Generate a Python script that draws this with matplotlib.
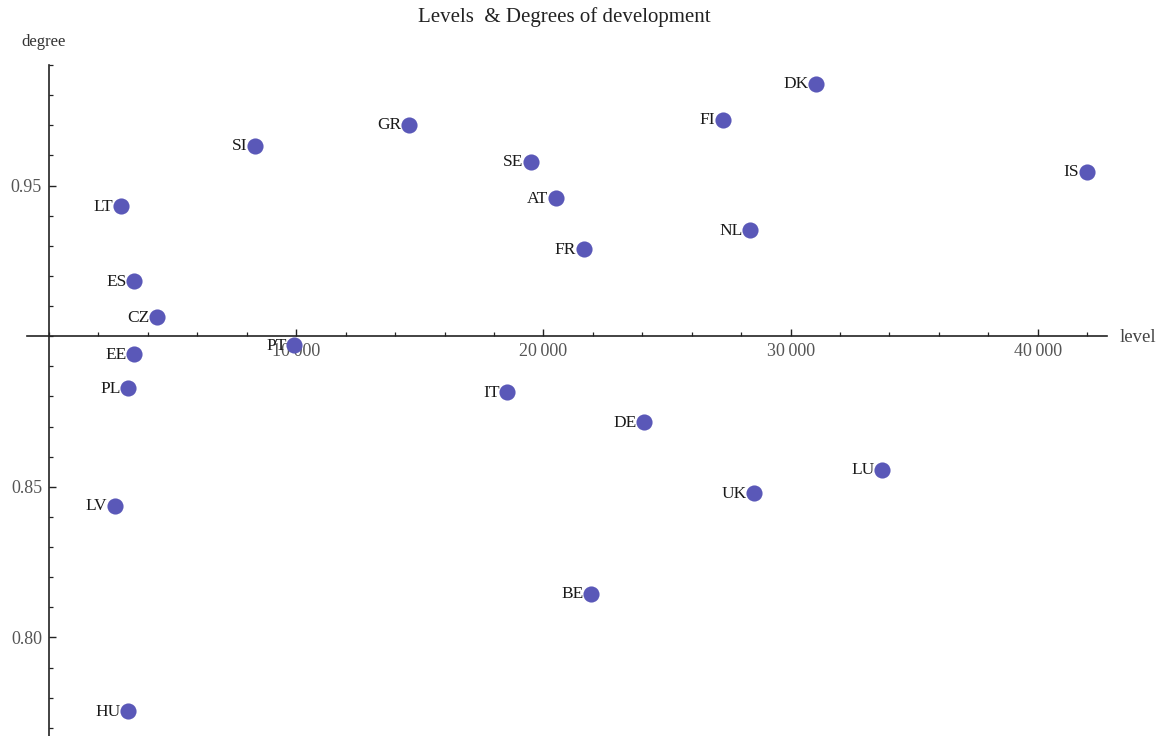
import matplotlib
matplotlib.use('Agg')
import matplotlib.pyplot as plt
from matplotlib.ticker import FixedLocator, MultipleLocator

plt.rcParams['font.family'] = ['Liberation Serif', 'DejaVu Serif']

# country codes, GDP-ish level and development degree
countries = ['DK', 'FI', 'IS', 'GR', 'SI', 'SE', 'AT', 'LT', 'NL', 'FR', 'ES',
             'CZ', 'PT', 'EE', 'PL', 'IT', 'DE', 'LU', 'UK', 'LV', 'BE', 'HU']
levels = [31030, 27270, 41990, 14560, 8330, 19500, 20510, 2910, 28360, 21640, 3440,
          4370, 9910, 3440, 3200, 18530, 24070, 33700, 28520, 2670, 21930, 3200]
degrees = [0.9838, 0.9719, 0.9546, 0.9702, 0.9632, 0.9579, 0.9459, 0.9432, 0.9353, 0.9289, 0.9183,
           0.9063, 0.8970, 0.8940, 0.8827, 0.8814, 0.8714, 0.8557, 0.8478, 0.8438, 0.8145, 0.7756]

x_major = [10000, 20000, 30000, 40000]
x_major_labels = ['10\u2009000', '20\u2009000', '30\u2009000', '40\u2009000']
y_major = [0.80, 0.85, 0.95]
y_major_labels = ['0.80', '0.85', '0.95']

fig = plt.figure(figsize=(11.61, 7.36), dpi=100)
ax = fig.add_axes([27 / 1161, 0.0, 1080 / 1161, 671 / 736])

ax.scatter(levels, degrees, s=135, color='#5a58b8', zorder=3, linewidths=0)
for c, x, y in zip(countries, levels, degrees):
    ax.annotate(c, (x, y), xytext=(-5.5, -0.5), textcoords='offset points',
                ha='right', va='center', fontsize=12.5, color='#1a1a1a', zorder=4)

ax.set_xlim(-890, 42800)
ax.set_ylim(0.7673, 0.99)

ax.spines['left'].set_position(('data', 0))
ax.spines['bottom'].set_position(('data', 0.90))
ax.spines['top'].set_visible(False)
ax.spines['right'].set_visible(False)
for s in ('left', 'bottom'):
    ax.spines[s].set_linewidth(1.2)
    ax.spines[s].set_color('#222222')

ax.xaxis.set_major_locator(FixedLocator(x_major))
ax.set_xticklabels(x_major_labels)
ax.xaxis.set_minor_locator(MultipleLocator(2000))
ax.yaxis.set_major_locator(FixedLocator(y_major))
ax.set_yticklabels(y_major_labels)
ax.yaxis.set_minor_locator(MultipleLocator(0.01))

ax.tick_params(axis='both', which='major', direction='in', length=5, width=1.0,
               color='#222222', labelsize=13, labelcolor='#555555')
ax.tick_params(axis='both', which='minor', direction='in', length=3, width=0.9,
               color='#222222')
ax.tick_params(axis='x', which='major', pad=5)
ax.tick_params(axis='y', which='major', pad=5)

fig.text(1120 / 1161, 1 - 338 / 736, 'level', ha='left', va='center', fontsize=13.5, color='#444444')
fig.text(44 / 1161, 1 - 42 / 736, 'degree', ha='center', va='center', fontsize=12, color='#333333')
fig.text(564 / 1161, 1 - 17 / 736, 'Levels  & Degrees of development', ha='center', va='center',
         fontsize=15, color='#222222')

fig.savefig('out.png', dpi=100)
